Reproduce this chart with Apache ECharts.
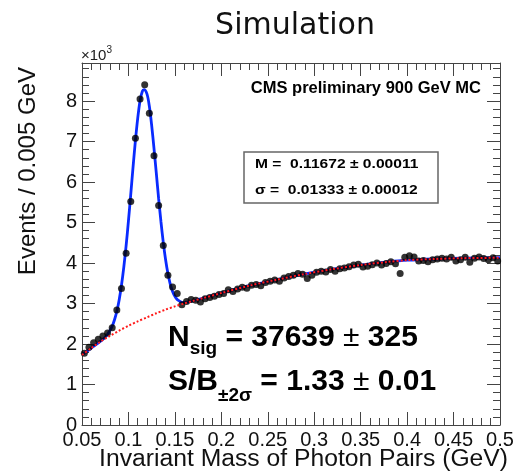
<!DOCTYPE html>
<html><head><meta charset="utf-8">
<script src="https://cdn.jsdelivr.net/npm/echarts@6/dist/echarts.min.js"></script>
<style>html,body{margin:0;padding:0;background:#fff}#c{width:518px;height:473px}</style>
</head><body><div id="c"></div>
<script>
// ---- data (events per bin, in units of 10^3) ----
const binStart = 0.05;
const binWidth = 0.005;
const counts = [
  1.77,1.92,2.03,2.12,2.20,2.27,2.40,2.84,3.37,4.24,
  5.52,7.08,8.05,8.40,7.70,6.65,5.42,4.43,3.70,3.41,
  3.25,
  2.97,3.05,3.10,3.08,3.04,3.12,3.15,3.18,3.22,3.25,
  3.34,3.30,3.36,3.40,3.38,3.45,3.47,3.44,3.52,3.55,
  3.58,3.55,3.63,3.67,3.70,3.74,3.72,3.62,3.70,3.77,
  3.80,3.78,3.84,3.80,3.86,3.88,3.91,3.95,3.97,3.90,
  3.92,3.96,4.00,3.95,3.99,4.03,3.98,3.74,4.14,4.18,
  4.15,4.05,4.06,4.03,4.08,4.10,4.12,4.10,4.14,4.05,
  4.08,4.14,4.02,4.12,4.15,4.11,4.08,4.13,4.05
];
// total fit (signal + background)
const fitX = [0.05,0.06,0.07,0.075,0.0775,0.08,0.0825,0.085,0.0875,0.09,0.0925,0.095,0.0975,0.1,
  0.1025,0.105,0.1075,0.11,0.1125,0.115,0.1167,0.12,0.1225,0.125,0.1275,0.13,0.1325,0.135,0.1375,
  0.14,0.1425,0.145,0.1475,0.15,0.1525,0.155,0.1575,0.16,0.17,0.18,0.20,0.23,0.26,0.29,0.32,0.35,
  0.38,0.40,0.43,0.46,0.50];
const fitY = [1.73,1.90,2.07,2.17,2.24,2.33,2.44,2.60,2.81,3.09,3.45,3.90,4.43,5.04,
  5.70,6.38,7.02,7.58,8.01,8.24,8.28,8.17,7.87,7.40,6.83,6.22,5.59,5.02,4.51,
  4.08,3.74,3.48,3.30,3.18,3.10,3.06,3.03,3.02,3.07,3.13,3.26,3.44,3.59,3.73,3.85,3.95,
  4.03,4.07,4.10,4.12,4.13];
// background component (red dotted)
const bkgX = [0.05,0.06,0.07,0.08,0.09,0.10,0.11,0.12,0.13,0.14,0.15,0.16,0.17,0.18,0.20,0.23,0.26,0.29,0.32,0.35,0.38,0.40,0.43,0.46,0.50];
const bkgY = [1.73,1.90,2.06,2.20,2.33,2.45,2.56,2.66,2.76,2.85,2.93,3.00,3.07,3.13,3.26,3.44,3.59,3.73,3.85,3.95,4.03,4.07,4.10,4.12,4.13];
// tick labels
const xTickLabels = ['0.05','0.1','0.15','0.2','0.25','0.3','0.35','0.4','0.45','0.5'];
const yTickLabels = ['0','1','2','3','4','5','6','7','8'];

const ff = '"Liberation Sans", Arial, Helvetica, sans-serif';
const ctx = document.createElement('canvas').getContext('2d');
function tw(t, font){ ctx.font = font; return ctx.measureText(t).width; }

// sequence of text pieces sharing a baseline
function run(parts, x0, baseline, z){
  const els = []; let x = x0;
  parts.forEach(p => {
    const font = (p.w || 'bold') + ' ' + p.s + 'px ' + ff;
    const bl = baseline + (p.dy || 0);
    els.push({type:'text', x: x, y: bl - 0.35*p.s, z: z||100,
      style:{text:p.t, font:font, fill:'#000', align:'left', textAlign:'left', verticalAlign:'middle', textVerticalAlign:'middle'}});
    x += tw(p.t, font);
  });
  return els;
}

const dataPts = counts.map((v,i)=>[+(binStart + binWidth*(i+0.5)).toFixed(4), v]);
const fitPts = fitX.map((x,i)=>[x, fitY[i]]);
const bkgPts = bkgX.map((x,i)=>[x, bkgY[i]]);

const axisCol = '#444';
const xBase = {type:'value', min:0.05, max:0.5, interval:0.05,
  axisLine:{show:true, onZero:false, lineStyle:{color:axisCol, width:1}},
  axisTick:{show:true, inside:true, length:13, lineStyle:{color:axisCol}},
  minorTick:{show:true, splitNumber:5, length:7, lineStyle:{color:axisCol}},
  splitLine:{show:false}};
const yBase = {type:'value', min:0, max:8.94, interval:1,
  axisLine:{show:true, onZero:false, lineStyle:{color:axisCol, width:1}},
  axisTick:{show:true, inside:true, length:13, lineStyle:{color:axisCol}},
  minorTick:{show:true, splitNumber:5, length:7, lineStyle:{color:axisCol}},
  splitLine:{show:false}};

const graphics = [
  {type:'text', x:295, y:37-0.35*30, style:{text:'Simulation', font:'30px "DejaVu Sans", sans-serif', fill:'#111', align:'center', textAlign:'center', verticalAlign:'middle', textVerticalAlign:'middle'}},
  {type:'text', x:37-0.35*24, y:67, rotation:Math.PI/2, style:{text:'Events / 0.005 GeV', font:'24px '+ff, fill:'#111', align:'right', textAlign:'right', verticalAlign:'middle', textVerticalAlign:'middle'}},
  {type:'text', x:508, y:468-0.35*24.7, style:{text:'Invariant Mass of Photon Pairs (GeV)', font:'24.7px '+ff, fill:'#111', align:'right', textAlign:'right', verticalAlign:'middle', textVerticalAlign:'middle'}},
  {type:'text', x:81, y:61-0.35*15, style:{text:'\u00d710', font:'15px '+ff, fill:'#222', align:'left', textAlign:'left', verticalAlign:'middle', textVerticalAlign:'middle'}},
  {type:'text', x:81+tw('\u00d710','15px '+ff), y:54-0.35*10, style:{text:'3', font:'10px '+ff, fill:'#222', align:'left', textAlign:'left', verticalAlign:'middle', textVerticalAlign:'middle'}},
  {type:'text', x:481, y:94-0.35*16.5, style:{text:'CMS preliminary 900 GeV MC', font:'bold 16.5px '+ff, fill:'#000', align:'right', textAlign:'right', verticalAlign:'middle', textVerticalAlign:'middle'}},
  {type:'rect', shape:{x:244, y:152, width:194, height:51}, style:{fill:'#fff', stroke:'#666', lineWidth:1.5}, z:90},
  {type:'text', x:255, y:169-0.35*12, scaleX:1.3, z:100, style:{text:'M =  0.11672 \u00b1 0.00011', font:'bold 12px '+ff, fill:'#000', align:'left', textAlign:'left', verticalAlign:'middle', textVerticalAlign:'middle'}},
  {type:'text', x:255, y:195-0.35*12, scaleX:1.3, z:100, style:{text:'\u03c3 =  0.01333 \u00b1 0.00012', font:'bold 12px '+ff, fill:'#000', align:'left', textAlign:'left', verticalAlign:'middle', textVerticalAlign:'middle'}}
].concat(
  run([{t:'N',s:30},{t:'sig',s:19,dy:7},{t:' = 37639 ',s:30},{t:'\u00b1',s:30,w:'normal'},{t:' 325',s:30}], 168, 348),
  run([{t:'S/B',s:30},{t:'\u00b12\u03c3',s:19,dy:10},{t:' = 1.33 ',s:30},{t:'\u00b1',s:30,w:'normal'},{t:' 0.01',s:30}], 168, 392)
);

const chart = echarts.init(document.getElementById('c'), null, {renderer:'canvas'});
chart.setOption({
  animation:false,
  backgroundColor:'#fff',
  grid:{left:82, right:18, top:63, bottom:48, containLabel:false},
  xAxis:[
    Object.assign({}, xBase, {position:'bottom',
      axisLabel:{show:true, margin:5, fontSize:20, fontFamily:ff, color:'#111',
        formatter:(v)=>{const i=Math.round((v-0.05)/0.05); return Math.abs(v-0.05-i*0.05)<1e-6 ? (xTickLabels[i]||'') : '';}}}),
    Object.assign({}, xBase, {position:'top', axisLabel:{show:false}})
  ],
  yAxis:[
    Object.assign({}, yBase, {position:'left',
      axisLabel:{show:true, margin:5, fontSize:20, fontFamily:ff, color:'#111',
        formatter:(v)=>{const i=Math.round(v); return Math.abs(v-i)<1e-6 ? (yTickLabels[i]||'') : '';}}}),
    Object.assign({}, yBase, {position:'right', axisLabel:{show:false}})
  ],
  series:[
    {type:'line', name:'fit', data:fitPts, smooth:0.3, showSymbol:false, z:3,
      lineStyle:{color:'#0a2bff', width:2.8}},
    {type:'scatter', name:'data', data:dataPts, symbol:'circle', symbolSize:7, z:4,
      itemStyle:{color:'#000'}},
    {type:'line', name:'background', data:bkgPts, smooth:0.3, showSymbol:false, z:5,
      lineStyle:{color:'#ff1a1a', width:2, type:[2,2]}}
  ],
  graphic:graphics
});
</script></body></html>
